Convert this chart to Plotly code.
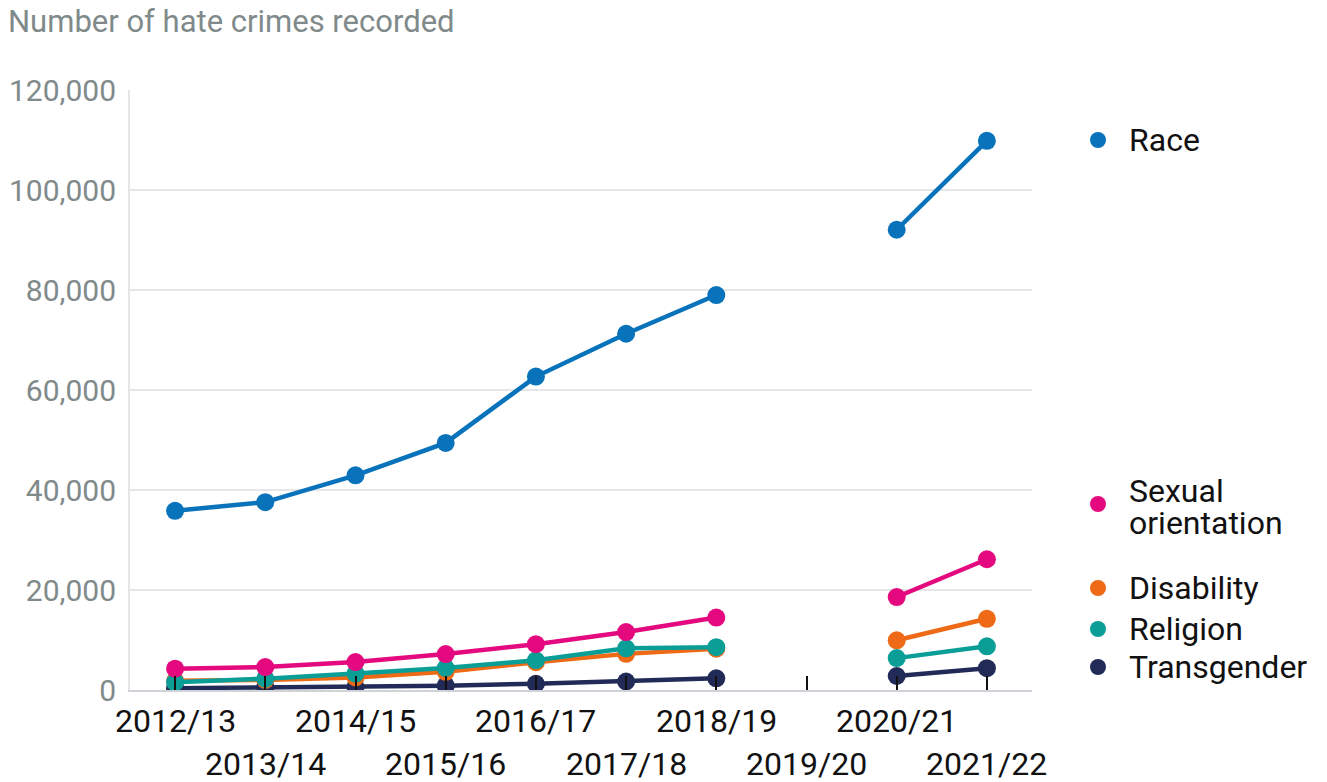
import plotly.graph_objects as go

years = ["2012/13", "2013/14", "2014/15", "2015/16", "2016/17",
         "2017/18", "2018/19", "2019/20", "2020/21", "2021/22"]
race = [35845, 37575, 42930, 49419, 62685, 71251, 78991, None, 92052, 109843]
sexual_orientation = [4267, 4588, 5591, 7194, 9157, 11592, 14491, None, 18596, 26152]
disability = [1841, 2020, 2515, 3629, 5558, 7226, 8256, None, 9943, 14242]
religion = [1572, 2264, 3293, 4400, 5949, 8339, 8566, None, 6377, 8730]
transgender = [364, 555, 607, 858, 1248, 1703, 2333, None, 2799, 4355]

series = [
    ("Transgender", transgender, "#222B57"),
    ("Disability", disability, "#EE6A16"),
    ("Religion", religion, "#0A9E97"),
    ("Sexual orientation", sexual_orientation, "#E4097F"),
    ("Race", race, "#0873BA"),
]

FONT = "Roboto"
fig = go.Figure()
idx = list(range(len(years)))
for name, vals, col in series:
    fig.add_trace(go.Scatter(
        x=idx, y=vals, name=name, mode="lines+markers",
        line=dict(color=col, width=4.5), marker=dict(color=col, size=18),
        connectgaps=False, showlegend=False))

OFF = 8  # page body margin
W, H = 1327 - OFF, 782 - OFF
L, T = 130 - OFF, 90 - OFF
R, B = W - (1032 - OFF), H - (690 - OFF)
pw, ph = W - L - R, H - T - B

def px_x(p):
    return (p - OFF - L) / pw

def px_y(p):
    return (H - B - (p - OFF)) / ph

annotations = []
for i, lab in enumerate(years):
    annotations.append(dict(
        x=i, xref="x", y=px_y(721 if i % 2 == 0 else 764), yref="paper",
        text=lab, showarrow=False, xanchor="center", yanchor="middle",
        height=34, valign="middle",
        font=dict(family=FONT, size=32, color="#111111")))

annotations.append(dict(
    x=px_x(6), xref="paper", y=px_y(21), yref="paper", text="Number of hate crimes recorded",
    showarrow=False, xanchor="left", yanchor="middle", height=28, valign="middle",
    font=dict(family=FONT, size=31, color="#808a8a")))

legend_items = [
    (["Race"], [140], 140, "#0873BA"),
    (["Sexual", "orientation"], [491, 523], 504, "#E4097F"),
    (["Disability"], [588], 588, "#EE6A16"),
    (["Religion"], [629], 629, "#0A9E97"),
    (["Transgender"], [667], 667, "#222B57"),
]
shapes = []
for texts, ys, my, col in legend_items:
    for t, yy in zip(texts, ys):
        annotations.append(dict(
            x=px_x(1127), xref="paper", y=px_y(yy), yref="paper", text=t,
            showarrow=False, xanchor="left", yanchor="middle",
            height=32 if len(texts) > 1 else 38, valign="middle",
            font=dict(family=FONT, size=32, color="#111111")))
    shapes.append(dict(
        type="circle", xref="paper", yref="paper",
        xsizemode="pixel", ysizemode="pixel",
        xanchor=px_x(1098), yanchor=px_y(my),
        x0=-8, x1=8, y0=-8, y1=8,
        fillcolor=col, line=dict(width=0)))

fig.update_layout(
    width=W, height=H, autosize=False,
    margin=dict(l=L, r=R, t=T, b=B, pad=0),
    plot_bgcolor="white", paper_bgcolor="white",
    font=dict(family=FONT, size=30, color="#808a8a"),
    annotations=annotations, shapes=shapes,
    xaxis=dict(
        range=[-0.5, 9.5], tickmode="array", tickvals=idx, showticklabels=False,
        ticks="inside", ticklen=14, tickwidth=2, tickcolor="#111111",
        showgrid=False, showline=True, linecolor="#cfd2d6", linewidth=2,
        zeroline=False, automargin=False),
    yaxis=dict(
        range=[0, 120000], dtick=20000, tickformat=",",
        showgrid=True, gridcolor="#e4e6e8", gridwidth=2,
        showline=True, linecolor="#e4e6e8", linewidth=2,
        zeroline=False, ticks="", ticklabelstandoff=6, automargin=False,
        tickfont=dict(family=FONT, size=30, color="#808a8a")),
)

fig.write_html("out.html")
